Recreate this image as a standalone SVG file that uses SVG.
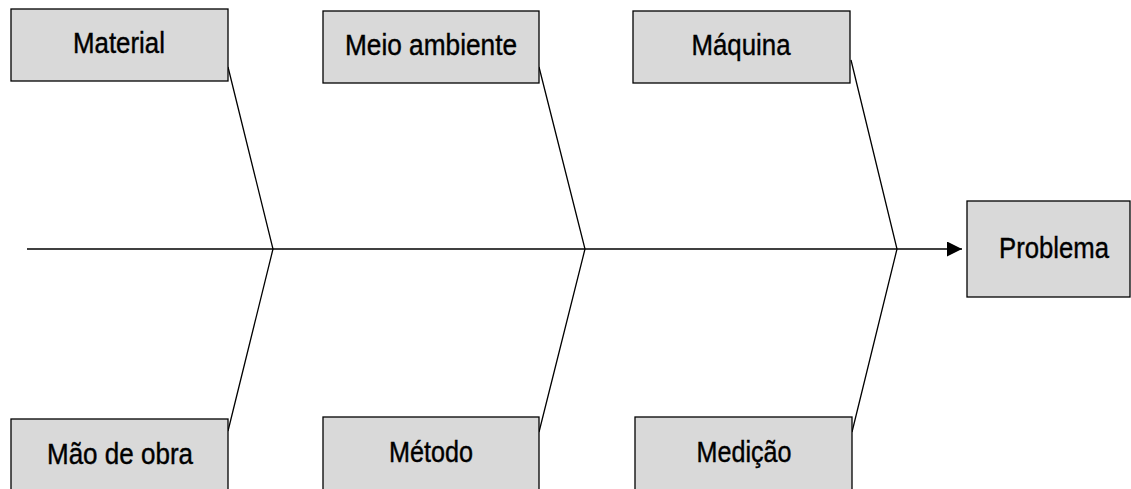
<svg xmlns="http://www.w3.org/2000/svg" width="1131" height="489" viewBox="0 0 1131 489">
<defs>
<style>
.box{fill:#d9d9d9;stroke:#000;stroke-width:1.3}
.lbl{font-family:"Liberation Sans",Arial,sans-serif;font-size:29px;fill:#000;stroke:#000;stroke-width:0.4;text-anchor:middle}
.ln{stroke:#000;stroke-width:1.3;fill:none}
</style>
<marker id="arr" markerWidth="16" markerHeight="16" refX="15" refY="7.5" orient="auto" markerUnits="userSpaceOnUse">
<path d="M0,0 L15,7.5 L0,15 Z" fill="#000"/>
</marker>
</defs>
<rect width="1131" height="489" fill="#fff"/>
<g id="connectors">
<line class="ln" x1="27" y1="249" x2="962" y2="249" marker-end="url(#arr)"/>
<polyline class="ln" points="228,67 273,249 228,431"/>
<polyline class="ln" points="539,67 585,249 539,432"/>
<polyline class="ln" points="851,60 897,249 852,432"/>
</g>
<g id="material"><rect class="box" x="11" y="9" width="217" height="72"/><text class="lbl" x="119" y="53" textLength="92" lengthAdjust="spacingAndGlyphs">Material</text></g>
<g id="meio-ambiente"><rect class="box" x="323" y="11" width="216" height="72"/><text class="lbl" x="431" y="55" textLength="172" lengthAdjust="spacingAndGlyphs">Meio ambiente</text></g>
<g id="maquina"><rect class="box" x="633" y="11" width="217" height="72"/><text class="lbl" x="741" y="55" textLength="99" lengthAdjust="spacingAndGlyphs">Máquina</text></g>
<g id="problema"><rect class="box" x="967" y="201" width="163" height="96"/><text class="lbl" x="1054" y="258" textLength="110" lengthAdjust="spacingAndGlyphs">Problema</text></g>
<g id="mao-de-obra"><rect class="box" x="11" y="419" width="217" height="80"/><text class="lbl" x="120" y="464" textLength="146" lengthAdjust="spacingAndGlyphs">Mão de obra</text></g>
<g id="metodo"><rect class="box" x="323" y="417" width="216" height="80"/><text class="lbl" x="431" y="462" textLength="84" lengthAdjust="spacingAndGlyphs">Método</text></g>
<g id="medicao"><rect class="box" x="635" y="417" width="217" height="80"/><text class="lbl" x="744" y="462" textLength="95" lengthAdjust="spacingAndGlyphs">Medição</text></g>
</svg>
